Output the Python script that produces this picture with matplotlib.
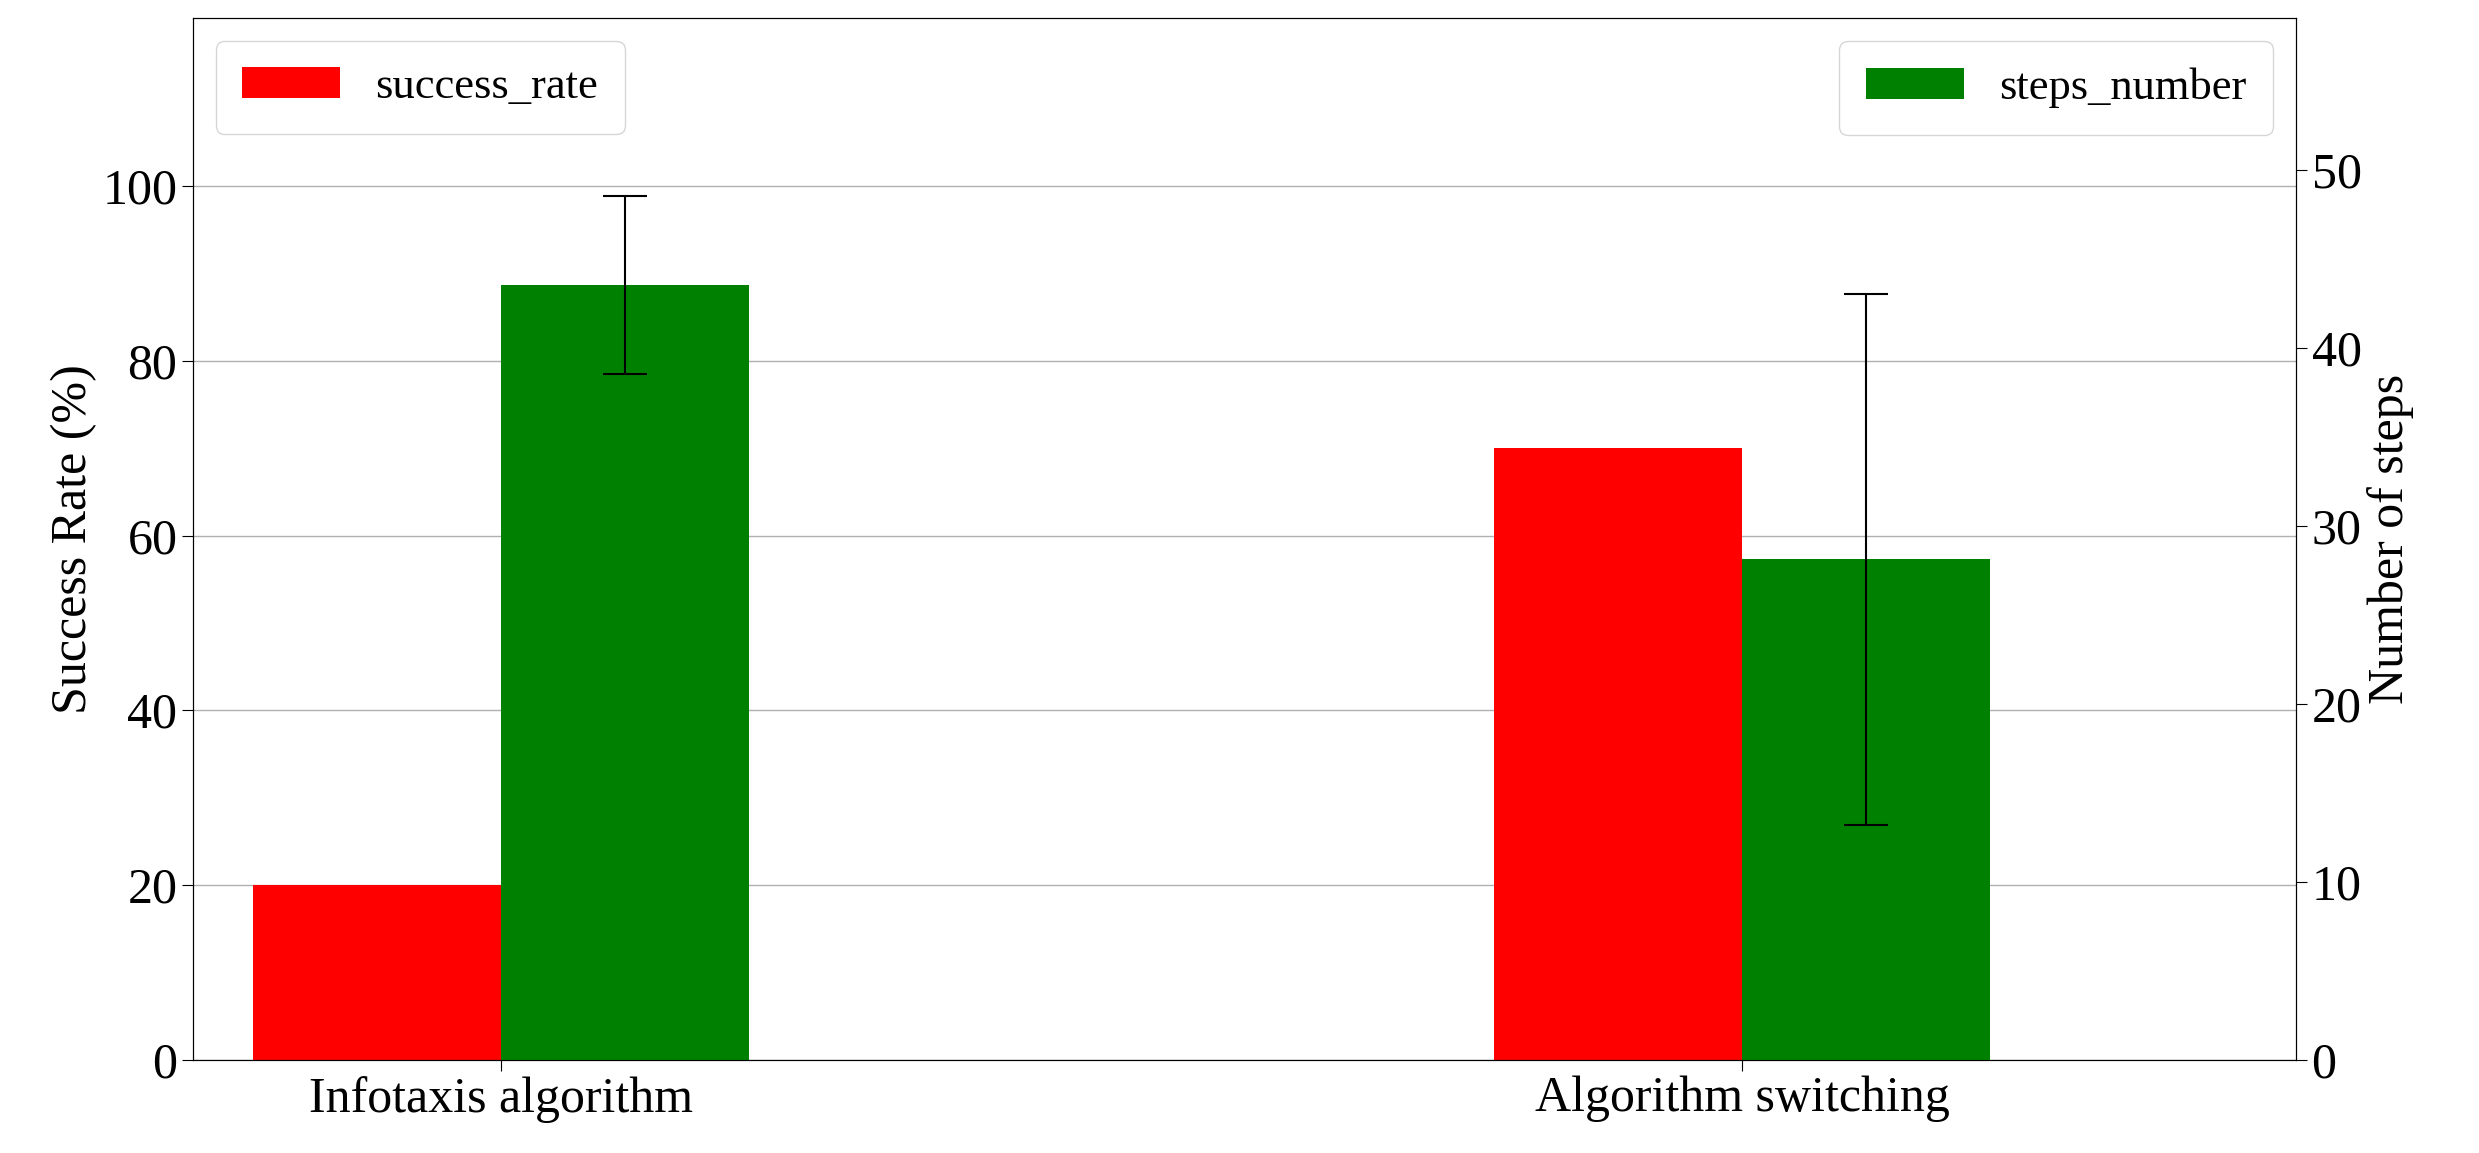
import numpy as np
import matplotlib.pyplot as plt

plt.rcParams['font.family'] = ['Liberation Serif', 'DejaVu Serif']

categories = ['Infotaxis algorithm', 'Algorithm switching']
success_rate = [20, 70]
steps_number = [43.5, 28.1]
steps_err = [5.0, 14.9]

fig = plt.figure(figsize=(24.79, 11.53), dpi=100)
ax0 = fig.add_axes([0.078, 0.081, 0.848, 0.903])
ax1 = ax0.twinx()

x = np.arange(len(categories))
width = 0.2

s1 = ax0.bar(x - width / 2, success_rate, width, color='red', label='success_rate')
s2 = ax1.bar(x + width / 2, steps_number, width, color='green',
             yerr=steps_err, capsize=16, error_kw=dict(elinewidth=1.5, capthick=1.5),
             label='steps_number')

ax0.set_xlim(-0.248, 1.446)
ax0.set_ylim(0, 119.2)
ax1.set_ylim(0, 58.5)
ax0.set_xticks(x)
ax0.set_xticklabels(categories)
ax0.set_yticks([0, 20, 40, 60, 80, 100])
ax1.set_yticks([0, 10, 20, 30, 40, 50])
ax0.yaxis.grid(True, color='#b0b0b0', linewidth=1)
ax0.set_axisbelow(True)

ax0.tick_params(labelsize=36, length=8)
ax1.tick_params(labelsize=36, length=8)
ax0.set_ylabel('Success Rate (%)', fontsize=36)
ax1.set_ylabel('Number of steps', fontsize=36)

ax0.legend(loc='upper left', fontsize=32, handlelength=2.2, borderpad=0.6)
ax1.legend(loc='upper right', fontsize=32, handlelength=2.2, borderpad=0.6)

plt.savefig('out.png')
